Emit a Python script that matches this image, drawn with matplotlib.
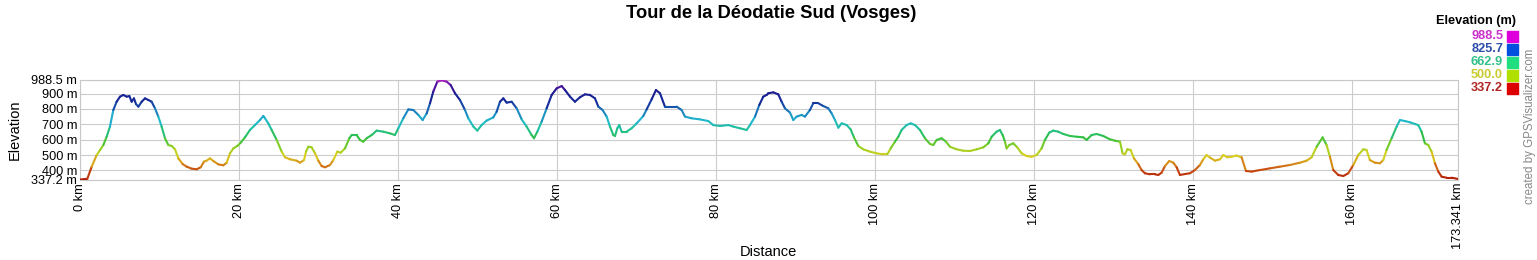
import numpy as np
import matplotlib
matplotlib.use("Agg")
import matplotlib.pyplot as plt
from matplotlib.collections import LineCollection
from matplotlib.colors import LinearSegmentedColormap

plt.rcParams['font.family'] = ['Liberation Sans', 'DejaVu Sans']

title = "Tour de la Déodatie Sud (Vosges)"

dist_km = [
    0.00, 0.92, 1.47, 2.10, 2.52, 2.94, 3.35, 3.77, 4.19, 4.61, 5.03, 5.45, 5.87, 6.21, 6.50, 6.79,
    7.04, 7.34, 7.76, 8.18, 8.60, 9.01, 9.43, 9.85, 10.27, 10.69, 11.11, 11.53, 11.95, 12.37, 12.91,
    13.42, 14.05, 14.68, 15.18, 15.60, 15.93, 16.35, 16.77, 17.40, 18.03, 18.45, 18.87, 19.29, 19.79,
    20.21, 20.75, 21.38, 22.01, 22.64, 23.06, 23.27, 23.69, 24.11, 24.74, 25.37, 25.79, 26.42, 27.25,
    27.67, 28.18, 28.43, 28.72, 29.14, 29.56, 29.98, 30.40, 30.82, 31.45, 31.87, 32.37, 32.79, 33.33,
    33.88, 34.17, 34.80, 35.22, 35.64, 36.06, 36.69, 37.32, 38.16, 38.99, 39.62,
    40.04, 40.67, 41.30, 41.93, 42.56, 43.10, 43.61, 44.03, 44.44, 44.95, 45.49, 46.12, 46.62, 47.17,
    47.80, 48.43, 48.85, 49.48, 49.98, 50.52, 51.15, 51.99, 52.41, 52.83, 53.25, 53.67, 54.30, 54.93,
    55.56, 56.18, 56.81, 57.11, 57.53, 58.07, 58.70, 59.33, 59.96, 60.59, 61.01, 61.64, 62.26, 62.89,
    63.52, 64.15, 64.78, 65.20, 65.74, 66.25, 66.67, 67.09, 67.30, 67.59, 67.84, 68.13, 68.76, 69.39,
    70.02, 70.86, 71.28, 71.91, 72.45, 72.96, 73.58, 74.21, 75.05, 75.68, 76.10, 76.94, 77.99, 79.04,
    79.66, 80.50, 81.55, 82.18, 83.02, 83.86, 84.28, 84.91, 85.45, 85.95, 86.37, 86.58, 87.21, 87.84,
    88.26, 88.68, 89.31, 89.73, 90.15, 90.78, 91.19, 91.82, 92.24, 92.87, 93.50, 94.13, 94.55, 94.97,
    95.39, 95.81, 96.44, 96.94, 97.36, 97.90, 98.53, 99.37, 100.21, 101.05, 101.55, 101.97, 102.52,
    102.94, 103.35, 103.98, 104.49, 105.03, 105.66, 106.29, 106.92, 107.34, 107.76, 108.39, 108.93,
    109.43, 110.27, 111.11, 111.95, 112.79, 113.63, 114.26, 114.68, 115.30, 115.72, 116.06, 116.35,
    116.56, 116.90, 117.40, 117.90, 118.45, 119.08, 119.71, 120.34, 120.96, 121.38, 121.93, 122.43,
    123.06, 123.69, 124.53, 125.37, 126.21, 126.62, 127.25, 127.88, 128.72, 129.56, 130.19, 130.82,
    131.15, 131.45, 131.74, 132.16, 132.58, 133.12, 133.54, 133.96, 134.59, 135.22, 135.64, 136.06,
    136.48, 137.02, 137.53, 137.95, 138.36, 138.99, 139.62, 140.25, 140.88, 141.30, 141.72, 142.14,
    142.77, 143.40, 143.82, 144.32, 144.86, 145.49, 146.12, 146.67, 147.38, 148.43, 149.69, 150.94,
    152.20, 153.46, 154.30, 154.93, 155.56, 156.31, 156.81, 157.23, 157.65, 158.28, 158.91, 159.54,
    160.17, 160.80, 161.43, 161.84, 162.26, 162.89, 163.52, 163.94, 164.36, 164.99, 165.62, 166.04,
    166.67, 167.30, 167.92, 168.34, 168.76, 169.18, 169.60, 170.02, 170.44, 170.86, 171.28, 171.91,
    172.54, 173.341,
]

elev_m = [
    340, 345, 424, 500, 532, 565, 619, 685, 793, 847, 880, 891, 880, 884, 847, 869,
    832, 815, 847, 869, 858, 847, 804, 750, 685, 609, 565, 559, 537, 478, 441,
    424, 411, 407, 420, 457, 463, 478, 461, 439, 433, 450, 511, 543, 559,
    580, 615, 663, 695, 728, 754, 739, 706, 663, 598, 522, 485, 472, 463,
    450, 467, 522, 554, 550, 511, 463, 428, 420, 435, 467, 522, 515, 543,
    609, 630, 630, 598, 587, 609, 630, 659, 652, 641, 630,
    674, 739, 797, 793, 761, 728, 771, 837, 913, 978, 986, 978, 956, 902,
    858, 793, 739, 685, 659, 695, 724, 745, 782, 847, 869, 841, 847, 804,
    732, 685, 630, 609, 652, 717, 804, 891, 934, 949, 923, 880, 847, 876,
    895, 891, 869, 815, 793, 750, 685, 630, 624, 674, 695, 652, 652, 674,
    706, 754, 797, 863, 923, 902, 815, 815, 815, 793, 750, 739, 732, 721,
    695, 689, 695, 685, 674, 663, 695, 750, 826, 880, 891, 902, 908, 895,
    847, 804, 776, 728, 750, 761, 750, 793, 837, 837, 819, 804, 771, 728,
    678, 706, 695, 667, 615, 559, 537, 522, 511, 504, 504, 543, 587,
    619, 663, 695, 706, 695, 663, 609, 572, 565, 598, 609, 587,
    554, 537, 528, 526, 537, 550, 576, 619, 652, 663, 630, 587,
    543, 565, 576, 550, 511, 493, 489, 500, 543, 598, 646, 659,
    652, 637, 624, 619, 615, 598, 630, 637, 624, 602, 593, 587,
    511, 504, 537, 533, 478, 441, 402, 381, 374, 374, 370, 385,
    428, 461, 450, 420, 370, 376, 381, 402, 435, 472, 500, 483,
    463, 472, 500, 485, 489, 496, 485, 396, 392, 402, 413, 424,
    435, 450, 463, 485, 554, 615, 565, 489, 402, 370, 363, 381,
    435, 500, 537, 533, 467, 450, 446, 467, 533, 609, 685, 728,
    721, 713, 702, 695, 652, 576, 565, 522, 446, 392, 359, 352,
    352, 344,
]

y_ticks = [337.2, 400, 500, 600, 700, 800, 900, 988.5]
y_tick_labels = ["337.2 m", "400 m", "500 m", "600 m", "700 m", "800 m", "900 m", "988.5 m"]
x_ticks = [0, 20, 40, 60, 80, 100, 120, 140, 160, 173.341]
x_tick_labels = ["0 km", "20 km", "40 km", "60 km", "80 km", "100 km", "120 km", "140 km", "160 km", "173.341 km"]

legend_values = ["988.5", "825.7", "662.9", "500.0", "337.2"]
legend_text_colors = ["#cc33cc", "#2a4fa8", "#33c08a", "#c8cc30", "#b02424"]
legend_box_colors = ["#dd00dd", "#0050e0", "#20dd80", "#b0e000", "#dd0000"]

ymin, ymax = 337.2, 988.5

cmap = LinearSegmentedColormap.from_list("elev", [
    (0.00, "#b01a08"),
    (0.10, "#c84a10"),
    (0.18, "#d89a18"),
    (0.24, "#d8d020"),
    (0.32, "#98d020"),
    (0.42, "#30c040"),
    (0.52, "#20c0a0"),
    (0.60, "#20b8d0"),
    (0.70, "#1a70b8"),
    (0.78, "#142a9a"),
    (0.88, "#1a1a90"),
    (0.94, "#5010a0"),
    (1.00, "#b020c0"),
])

W, H = 1537, 260
fig = plt.figure(figsize=(W / 100, H / 100), dpi=100)
ax = fig.add_axes([80 / W, 1 - 180 / H, (1458 - 80) / W, 100 / H])

x = np.array(dist_km)
y = np.array(elev_m)
pts = np.column_stack([x, y]).reshape(-1, 1, 2)
segs = np.concatenate([pts[:-1], pts[1:]], axis=1)
vals = (y[:-1] + y[1:]) / 2
lc = LineCollection(segs, cmap=cmap, norm=plt.Normalize(ymin, ymax), linewidth=1.5,
                    capstyle='round', joinstyle='round', zorder=3)
lc.set_array(vals)
ax.add_collection(lc)

ax.set_xlim(0, 173.341)
ax.set_ylim(ymin, ymax)
ax.set_yticks(y_ticks)
ax.set_yticklabels(y_tick_labels, fontsize=9.2)
ax.set_xticks(x_ticks)
ax.set_xticklabels(x_tick_labels, rotation=90, fontsize=9.2)
ax.tick_params(length=0, pad=2)
ax.grid(True, color="#cccccc", linewidth=0.8)
for s in ax.spines.values():
    s.set_color("#c8c8c8")
    s.set_linewidth(0.8)

fig.text(15 / W, 1 - 130 / H, "Elevation", rotation=90, ha="center", va="center", fontsize=10.5)
fig.text(768 / W, 1 - 252 / H, "Distance", ha="center", va="center", fontsize=10.5)
fig.text(771 / W, 1 - 13 / H, title, ha="center", va="center", fontsize=13.2, fontweight="bold")

fig.text(1516 / W, 1 - 21 / H, "Elevation (m)", ha="right", va="center", fontsize=9.2, fontweight="bold")
for i, (v, tc, bc) in enumerate(zip(legend_values, legend_text_colors, legend_box_colors)):
    yc = 36 + i * 13.1
    fig.text(1503 / W, 1 - yc / H, v, ha="right", va="center", fontsize=9.2, fontweight="bold", color=tc)
    fig.patches.append(plt.Rectangle((1507 / W, 1 - (yc + 5.5) / H), 11 / W, 11 / H,
                                     transform=fig.transFigure, color=bc, figure=fig))

fig.text(1530 / W, 1 - 126 / H, "created by GPSVisualizer.com", rotation=90, ha="center", va="center",
         fontsize=8.3, color="#888888")

fig.savefig("out.png", dpi=100)
